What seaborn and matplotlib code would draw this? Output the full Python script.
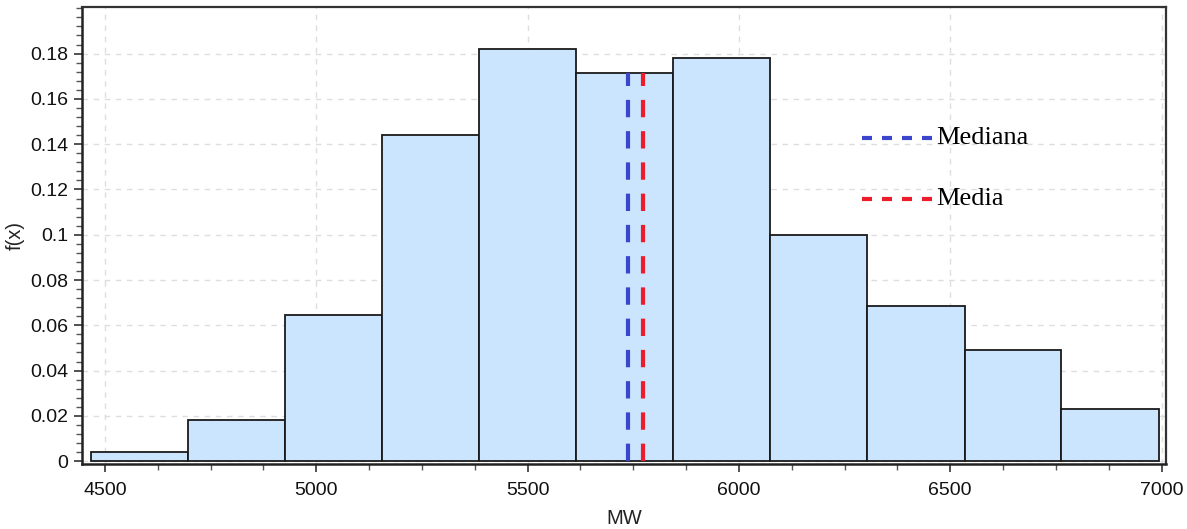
import numpy as np
import pandas as pd
import matplotlib
matplotlib.use("Agg")
import matplotlib.pyplot as plt
from matplotlib.ticker import MultipleLocator, FuncFormatter
import seaborn as sns

# Relative frequency histogram of MW
bin_edges = [4467, 4697, 4926, 5156, 5386, 5615, 5845, 6074, 6304, 6534, 6763, 6993]
rel_freq = [0.004, 0.018, 0.0645, 0.144, 0.182, 0.1715, 0.178, 0.100, 0.0685, 0.049, 0.023]
median_mw = 5738
mean_mw = 5773
legend_labels = ["Mediana", "Media"]
x_ticks = [4500, 5000, 5500, 6000, 6500, 7000]
y_ticks = [0, 0.02, 0.04, 0.06, 0.08, 0.1, 0.12, 0.14, 0.16, 0.18]

sns.set_style("white")
plt.rcParams["font.family"] = ["Liberation Sans", "DejaVu Sans"]
plt.rcParams["lines.scale_dashes"] = False

centers = [(a + b) / 2 for a, b in zip(bin_edges[:-1], bin_edges[1:])]
df = pd.DataFrame({"MW": centers, "f": rel_freq})

fig = plt.figure(figsize=(11.87, 5.29), dpi=100)
ax = fig.add_axes([0.0691, 0.1231, 0.9130, 0.8629])

ax.set_axisbelow(True)
ax.grid(True, which="major", color="#dedede", linestyle=(0, (4, 4)), linewidth=1)

sns.histplot(data=df, x="MW", weights="f", bins=bin_edges, stat="count",
             color="#cce5ff", alpha=1.0, edgecolor="#1a1a1a", linewidth=1.3, ax=ax)

# median and mean markers, reaching the top of the bin that contains them
h_center = rel_freq[5]
blue = "#3a46cc"
red = "#ee1c2b"
ax.plot([median_mw, median_mw], [0, h_center], color=blue, lw=3.0,
        dashes=(12.5, 10), solid_capstyle="butt", dash_capstyle="butt", zorder=5)
ax.plot([mean_mw, mean_mw], [0, h_center], color=red, lw=3.0,
        dashes=(12.5, 10), solid_capstyle="butt", dash_capstyle="butt", zorder=5)

# hand-placed key
for lbl, col, yk in zip(legend_labels, [blue, red], [0.1427, 0.1158]):
    ax.plot([6292, 6462], [yk, yk], color=col, lw=3.0, dashes=(7.2, 7.2),
            dash_capstyle="butt", zorder=5)
    ax.text(6466, yk, lbl, family=["Liberation Serif", "DejaVu Serif"],
            fontsize=19, va="center", ha="left", color="black")

ax.set_xlim(4446, 7010)
ax.set_ylim(-0.0012, 0.2004)
ax.set_xticks(x_ticks)
ax.set_yticks(y_ticks)
ax.xaxis.set_minor_locator(MultipleLocator(125))
ax.yaxis.set_minor_locator(MultipleLocator(0.004))
ax.yaxis.set_major_formatter(FuncFormatter(lambda v, p: "0" if abs(v) < 1e-9 else f"{v:g}"))

ax.tick_params(axis="both", which="major", direction="out", length=6, width=1.2,
               color="#333333", labelsize=14, labelcolor="#111111", pad=4,
               bottom=True, left=True)
ax.tick_params(axis="x", which="major", pad=7)
ax.tick_params(axis="both", which="minor", direction="out", length=4, width=1.0,
               color="#555555", bottom=True, left=True)

for s in ["left", "bottom"]:
    ax.spines[s].set_linewidth(1.8)
    ax.spines[s].set_color("#222222")
for s in ["top", "right"]:
    ax.spines[s].set_linewidth(1.6)
    ax.spines[s].set_color("#333333")
    ax.spines[s].set_visible(True)

ax.set_xlabel("MW", fontsize=14.5, color="#222222", labelpad=7)
ax.set_ylabel("f(x)", fontsize=14.5, color="#222222", labelpad=4)

fig.savefig("out.png", dpi=100)
